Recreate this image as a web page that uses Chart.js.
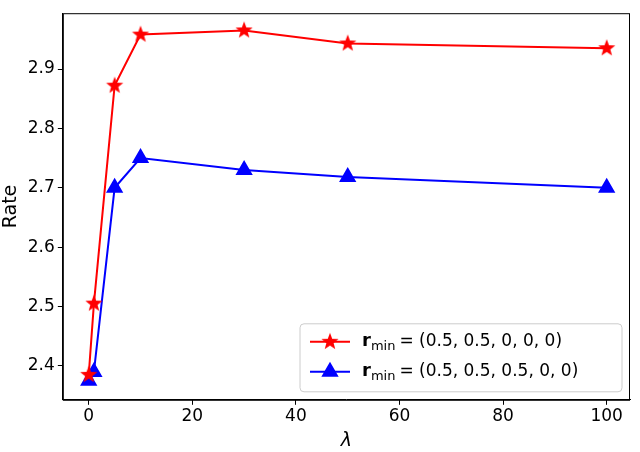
<!DOCTYPE html>
<html><head><meta charset="utf-8">
<script src="https://cdn.jsdelivr.net/npm/chart.js@4"></script>
<style>html,body{margin:0;padding:0;background:#fff}</style>
</head><body>
<div style="width:640px;height:452px"><canvas id="c"></canvas></div>
<script>
const lambdas = [0, 1, 5, 10, 30, 50, 100];
const rateA = [2.385, 2.505, 2.872, 2.958, 2.965, 2.943, 2.935];
const rateB = [2.375, 2.390, 2.700, 2.750, 2.730, 2.718, 2.700];
const yTicks = [2.4, 2.5, 2.6, 2.7, 2.8, 2.9];
const xTicks = [0, 20, 40, 60, 80, 100];
const legendLabels = ['(0.5, 0.5, 0, 0, 0)', '(0.5, 0.5, 0.5, 0, 0)'];
const F = 'DejaVu Sans';

function starImage(color, r) {
  const c = document.createElement('canvas');
  c.width = c.height = 2 * r + 2;
  const g = c.getContext('2d');
  g.fillStyle = color;
  g.beginPath();
  for (let k = 0; k < 10; k++) {
    const rad = k % 2 ? r * 0.42 : r;
    const a = -Math.PI / 2 + k * Math.PI / 5;
    g.lineTo(r + 1 + rad * Math.cos(a), r + 1 + rad * Math.sin(a));
  }
  g.closePath(); g.fill();
  return c;
}
const star = starImage('#ff0000', 9);

const frameLegend = {
  id: 'frameLegend',
  afterDraw(chart) {
    const ctx = chart.ctx, a = chart.chartArea;
    ctx.save();
    ctx.strokeStyle = '#000'; ctx.lineWidth = 1;
    ctx.strokeRect(a.left + 0.5, a.top + 0.5, a.right - a.left - 1, a.bottom - a.top);
    const w = 322, h = 68, x = a.right - w - 8, y = a.bottom - h - 8;
    ctx.fillStyle = 'rgba(255,255,255,0.8)';
    ctx.strokeStyle = '#ccc';
    ctx.beginPath(); ctx.roundRect(x, y, w, h, 4); ctx.fill(); ctx.stroke();
    chart.data.datasets.forEach((ds, i) => {
      const cy = y + 18 + i * 30;
      ctx.strokeStyle = ds.borderColor; ctx.lineWidth = 2;
      ctx.beginPath(); ctx.moveTo(x + 10, cy); ctx.lineTo(x + 50, cy); ctx.stroke();
      if (i === 0) ctx.drawImage(star, x + 30 - star.width / 2, cy - star.height / 2);
      else { ctx.fillStyle = ds.borderColor; Chart.helpers.drawPoint(ctx, {pointStyle: 'triangle', radius: 8, borderWidth: 1}, x + 30, cy); ctx.fill(); }
      ctx.fillStyle = '#000';
      ctx.textBaseline = 'middle';
      ctx.font = 'bold 18px ' + F;
      ctx.fillText('r', x + 62, cy);
      let tx = x + 62 + ctx.measureText('r').width;
      ctx.font = '13px ' + F;
      ctx.fillText('min', tx, cy + 5);
      tx += ctx.measureText('min').width + 4;
      ctx.font = '17px ' + F;
      ctx.fillText('= ' + legendLabels[i], tx, cy);
    });
    ctx.restore();
  }
};

new Chart(document.getElementById('c'), {
  type: 'line',
  data: {
    datasets: [
      {data: lambdas.map((x, i) => ({x, y: rateA[i]})), borderColor: '#ff0000', backgroundColor: '#ff0000',
       pointStyle: star, borderWidth: 2},
      {data: lambdas.map((x, i) => ({x, y: rateB[i]})), borderColor: '#0000ff', backgroundColor: '#0000ff',
       pointStyle: 'triangle', pointRadius: 8, borderWidth: 2}
    ]
  },
  options: {
    animation: false, responsive: true, maintainAspectRatio: false,
    layout: {padding: {top: 2, right: 3, left: 0, bottom: 0}},
    plugins: {legend: {display: false}, tooltip: {enabled: false}},
    scales: {
      x: {type: 'linear', min: -5, max: 104.5,
        afterBuildTicks: s => { s.ticks = xTicks.map(v => ({value: v})); },
        grid: {display: true, drawOnChartArea: false, drawTicks: true, tickLength: 5, color: '#000'}, border: {color: '#000'},
        ticks: {color: '#000', font: {family: F, size: 17}, padding: 2},
        title: {display: true, text: 'λ', color: '#000', font: {family: F, size: 19, style: 'italic'}, padding: {top: 0, bottom: 0}}},
      y: {min: 2.343, max: 2.994,
        afterBuildTicks: s => { s.ticks = yTicks.map(v => ({value: v})); },
        grid: {display: true, drawOnChartArea: false, drawTicks: true, tickLength: 5, color: '#000'}, border: {color: '#000'},
        ticks: {color: '#000', font: {family: F, size: 17}, padding: 3, callback: v => v.toFixed(1)},
        title: {display: true, text: 'Rate', color: '#000', font: {family: F, size: 19}, padding: {top: 0, bottom: 2}}}
    }
  },
  plugins: [frameLegend]
});
</script>
</body></html>
